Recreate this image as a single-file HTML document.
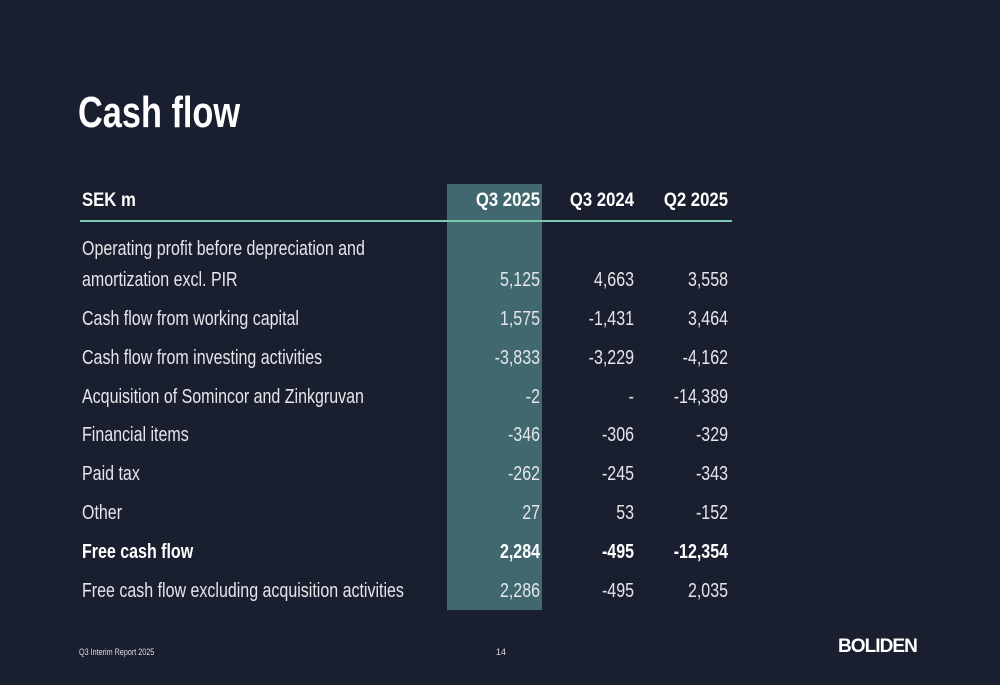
<!DOCTYPE html>
<html><head><meta charset="utf-8"><style>
body{margin:0;width:1000px;height:685px;background:#1a1f2f;position:relative;overflow:hidden;font-family:"Liberation Sans",sans-serif;color:#fff}
.a{position:absolute;white-space:nowrap;line-height:1}
.l{transform-origin:left top;transform:scaleX(.8);font-size:20px;color:#e4e6ea}
.n{transform-origin:right top;transform:scaleX(.8);font-size:20px;color:#e4e6ea;text-align:right;width:120px}
.h{transform:scaleX(.88)}
.b{font-weight:bold;color:#fff}
</style></head><body>
<div class="a" style="left:78px;top:91px;font-size:44px;font-weight:bold;transform-origin:left top;transform:scaleX(.78)">Cash flow</div>
<div class="a" style="left:447px;top:184px;width:95px;height:426px;background:#41686f"></div>
<div class="a" style="left:80px;top:220px;width:652px;height:2px;background:#7fc8b0"></div>
<div class="a l b h" style="left:82px;top:191px;font-size:19px">SEK m</div>
<div class="a n b h" style="left:420px;top:191px;font-size:19px">Q3 2025</div>
<div class="a n b h" style="left:514px;top:191px;font-size:19px">Q3 2024</div>
<div class="a n b h" style="left:608px;top:191px;font-size:19px">Q2 2025</div>
<div class="a l" style="left:82px;top:239px">Operating profit before depreciation and</div>
<div id="rows"></div>
<div class="a" style="left:79px;top:648px;font-size:9px;color:#ddd;transform-origin:left top;transform:scaleX(.8)">Q3 Interim Report 2025</div>
<div class="a" style="left:496px;top:648px;font-size:9px;color:#ddd">14</div>
<div class="a" style="left:838px;top:637px;font-size:20px;font-weight:bold;letter-spacing:-1px;transform-origin:left top;transform:scaleX(.95) scaleY(.95)">BOLIDEN</div>
<script>
const labels=["amortization excl. PIR","Cash flow from working capital","Cash flow from investing activities","Acquisition of Somincor and Zinkgruvan","Financial items","Paid tax","Other","Free cash flow","Free cash flow excluding acquisition activities"];
const q32025=["5,125","1,575","-3,833","-2","-346","-262","27","2,284","2,286"];
const q32024=["4,663","-1,431","-3,229","-","-306","-245","53","-495","-495"];
const q22025=["3,558","3,464","-4,162","-14,389","-329","-343","-152","-12,354","2,035"];
const tops=[270,309,348,387,425,464,503,542,581];
const c=document.getElementById('rows');
labels.forEach((t,i)=>{
 const bold=i===7?' b':'';
 let h=`<div class="a l${bold}" style="left:82px;top:${tops[i]}px">${t}</div>`;
 [[q32025,420],[q32024,514],[q22025,608]].forEach(([arr,x],j)=>{
  h+=`<div class="a n${bold}" style="left:${x}px;top:${tops[i]}px">${arr[i]}</div>`;
 });
 c.insertAdjacentHTML('beforeend',h);
});
</script>
</body></html>
